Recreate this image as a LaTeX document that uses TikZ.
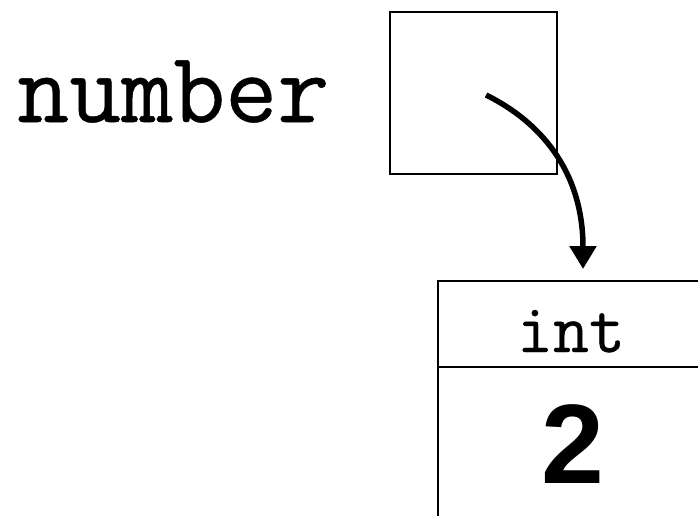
\documentclass[tikz,border=0pt]{standalone}
\usepackage{fontspec}
\setmainfont{Liberation Sans}
\newfontfamily\monofam[FakeBold=0.5]{Latin Modern Mono}
\usetikzlibrary{arrows.meta}
\begin{document}
\begin{tikzpicture}[x=1pt,y=-1pt,
  boxline/.style={draw=black,line width=1.8pt,inner sep=0pt,outer sep=0pt},
  ptrarrow/.style={line width=5.5pt,-{Triangle[length=23pt,width=26pt]}}]
\useasboundingbox (0,0) rectangle (698,515);
\clip (0,0) rectangle (698,515);
% variable label
\node[anchor=base west,inner sep=0pt,font=\monofam\fontsize{101}{101}\selectfont] (lbl) at (17,122) {number};
% pointer box
\node[boxline,minimum width=167pt,minimum height=162pt] (ptr) at (473.5,93) {};
% object: type header and value
\node[boxline,minimum width=266pt,minimum height=86pt] (type) at (571,324) {};
\node[boxline,minimum width=266pt,minimum height=240pt] (val) at (571,487) {};
\node[anchor=base,inner sep=0pt,font=\monofam\fontsize{70}{70}\selectfont] (typetxt) at (571,352) {int};
\node[anchor=base,inner sep=0pt,font=\bfseries\fontsize{113}{113}\selectfont] (valtxt) at (573,483) {2};
% reference arrow
\coordinate (start) at (486,95);
\coordinate (tip) at (583,269);
\draw[ptrarrow] (start) .. controls (539,121) and (583,170) .. (tip);
\end{tikzpicture}
\end{document}
